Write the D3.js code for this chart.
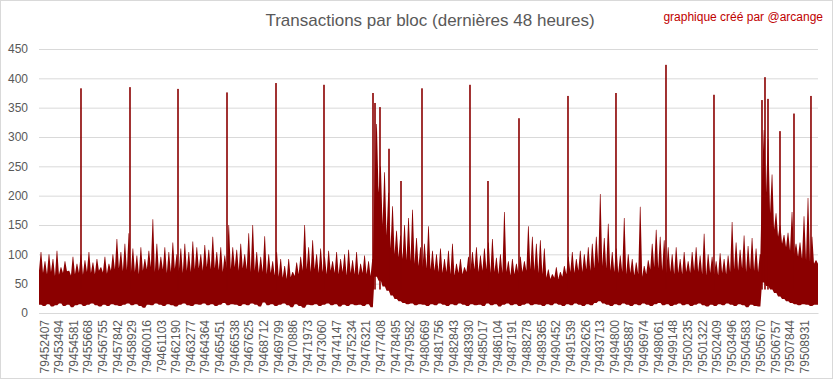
<!DOCTYPE html>
<html>
<head>
<meta charset="utf-8">
<script src="https://cdn.jsdelivr.net/npm/d3@7"></script>
<style>
  body { margin: 0; background: #fff; }
  svg { display: block; font-family: "Liberation Sans", Arial, sans-serif; }
</style>
</head>
<body>
<script>
var w = 833;
var h = 379;

// blocks are grouped in buckets of 297 blocks, starting at firstBlock
var firstBlock = 79452043;
var bucketSize = 297;

// max tx per bucket
var peakTx = [
  104, 88, 100, 92, 106, 78, 88, 72, 96, 84,
  100, 90, 104, 86, 92, 78, 96, 84, 100, 126,
  104, 118, 136, 110, 98, 112, 92, 106, 160, 118,
  96, 112, 104, 120, 100, 110, 118, 104, 122, 112,
  100, 116, 108, 130, 104, 112, 98, 150, 112, 108,
  118, 100, 136, 150, 104, 96, 131, 100, 88, 104,
  92, 80, 92, 70, 86, 96, 150, 112, 124, 100,
  110, 96, 106, 88, 104, 92, 100, 108, 90, 104,
  84, 98, 88, 92, 322, 250, 240, 205, 182, 140,
  132, 150, 162, 176, 128, 112, 118, 148, 106, 100,
  110, 92, 106, 118, 84, 92, 78, 96, 104, 112,
  98, 110, 120, 126, 94, 100, 172, 88, 92, 84,
  96, 88, 148, 130, 118, 124, 110, 74, 66, 78,
  70, 80, 96, 104, 92, 106, 100, 112, 118, 130,
  203, 128, 152, 104, 110, 98, 162, 100, 92, 86,
  181, 80, 90, 118, 142, 130, 124, 112, 100, 112,
  92, 104, 88, 104, 112, 98, 135, 100, 96, 88,
  102, 92, 98, 155, 120, 108, 132, 114, 128, 110,
  100, 312, 296, 236, 170, 150, 133, 137, 172, 118,
  120, 165, 196, 130, 90
];

// usual upper level of the bucket (dense part)
var coreTx = [
  72, 68, 66, 70, 63, 65, 68, 71, 64, 66,
  68, 65, 70, 68, 66, 72, 69, 67, 72, 74,
  76, 71, 73, 68, 70, 66, 72, 74, 78, 70,
  72, 74, 68, 70, 75, 71, 68, 72, 70, 74,
  76, 72, 78, 74, 76, 73, 70, 76, 74, 78,
  72, 76, 74, 70, 72, 68, 70, 66, 68, 64,
  62, 60, 58, 61, 63, 66, 72, 74, 70, 74,
  68, 70, 66, 72, 68, 66, 70, 64, 68, 66,
  64, 68, 66, 63, 222, 205, 150, 132, 110, 100,
  95, 92, 90, 88, 84, 80, 78, 76, 74, 72,
  70, 68, 70, 66, 64, 68, 66, 70, 72, 74,
  70, 72, 74, 68, 70, 66, 68, 70, 64, 66,
  68, 70, 72, 74, 72, 68, 66, 60, 58, 60,
  58, 62, 66, 70, 68, 72, 70, 74, 72, 76,
  84, 80, 76, 72, 70, 68, 70, 66, 68, 64,
  66, 62, 66, 74, 78, 76, 72, 68, 70, 66,
  68, 66, 70, 68, 72, 70, 66, 64, 68, 66,
  64, 68, 66, 70, 74, 72, 76, 70, 74, 72,
  70, 230, 205, 170, 142, 130, 118, 112, 106, 100,
  96, 92, 90, 86, 84
];

// min tx per bucket
var lowTx = [
  14, 12, 15, 11, 13, 16, 12, 14, 10, 13,
  15, 12, 14, 16, 13, 11, 14, 12, 15, 13,
  12, 14, 16, 13, 15, 12, 9, 14, 13, 16,
  14, 12, 15, 13, 11, 14, 16, 13, 12, 15,
  14, 16, 13, 15, 12, 14, 17, 13, 15, 14,
  12, 15, 13, 16, 14, 11, 18, 13, 15, 12,
  14, 16, 13, 10, 15, 12, 9, 14, 13, 15,
  12, 14, 16, 13, 15, 11, 14, 12, 15, 13,
  14, 12, 15, 10, 62, 55, 45, 38, 30, 24,
  20, 17, 15, 16, 13, 15, 14, 12, 15, 13,
  16, 14, 12, 15, 13, 16, 14, 12, 15, 13,
  14, 12, 16, 13, 15, 11, 14, 16, 13, 15,
  12, 14, 16, 13, 15, 14, 12, 15, 13, 16,
  14, 12, 15, 13, 16, 14, 12, 15, 13, 17,
  20, 16, 14, 12, 15, 13, 16, 14, 12, 15,
  13, 16, 14, 12, 15, 17, 13, 15, 12, 14,
  16, 13, 15, 12, 14, 16, 13, 11, 14, 12,
  15, 13, 16, 14, 12, 15, 13, 10, 14, 12,
  11, 52, 46, 40, 34, 28, 24, 20, 17, 15,
  13, 15, 14, 12, 14
];

// single blocks far above the rest
var spikeBlocks = [79455165, 79458808, 79462377, 79466020, 79469663, 79473231,
  79476874, 79477023, 79477394, 79478064, 79478956, 79480517, 79484085, 79485423,
  79487728, 79491371, 79494939, 79498657, 79502225, 79505794, 79506017, 79506240,
  79507132, 79508173, 79509436];
var spikeTx = [383, 385, 382, 376, 392, 389, 375, 358, 351, 280, 225, 383, 389, 225,
  332, 370, 375, 423, 372, 363, 402, 365, 310, 340, 370];

var tickBlocks = [79452407, 79453494, 79454581, 79455668, 79456755, 79457842, 79458929,
  79460016, 79461103, 79462190, 79463277, 79464364, 79465451, 79466538, 79467625,
  79468712, 79469799, 79470886, 79471973, 79473060, 79474147, 79475234, 79476321,
  79477408, 79478495, 79479582, 79480669, 79481756, 79482843, 79483930, 79485017,
  79486104, 79487191, 79488278, 79489365, 79490452, 79491539, 79492626, 79493713,
  79494800, 79495887, 79496974, 79498061, 79499148, 79500235, 79501322, 79502409,
  79503496, 79504583, 79505670, 79506757, 79507844, 79508931];
var yTicks = [0, 50, 100, 150, 200, 250, 300, 350, 400, 450];

var red = "#8b0000";

var svg = d3.select("body").append("svg")
  .attr("width", w)
  .attr("height", h);

svg.append("rect")
  .attr("x", 0.5).attr("y", 0.5)
  .attr("width", w - 1).attr("height", h - 1)
  .attr("fill", "#fff")
  .attr("stroke", "#d9d9d9");

var plotLeft = 39, plotRight = 818, plotTop = 49, plotBottom = 313;

var x = d3.scaleLinear()
  .domain([firstBlock, firstBlock + peakTx.length * bucketSize])
  .range([plotLeft, plotRight]);
var y = d3.scaleLinear()
  .domain([0, 450])
  .range([plotBottom, plotTop]);

// gridlines + y labels
var yAxis = svg.append("g")
  .attr("transform", "translate(" + plotLeft + ",0)")
  .call(d3.axisLeft(y).tickValues(yTicks).tickSize(-(plotRight - plotLeft)).tickPadding(11));
yAxis.select(".domain").remove();
yAxis.selectAll("line").attr("stroke", "#d9d9d9");
yAxis.selectAll("text")
  .attr("fill", "#595959")
  .attr("font-size", "12px")
  .attr("font-family", "Liberation Sans, Arial, sans-serif");

// body: saw-tooth going core -> peak -> core for every bucket
var pts = [];
peakTx.forEach(function(p, i) {
  var b = firstBlock + i * bucketSize;
  pts.push({b: b, v: coreTx[i], lo: lowTx[i]});
  pts.push({b: b + bucketSize * 0.42, v: p, lo: lowTx[i]});
  pts.push({b: b + bucketSize * 0.58, v: p, lo: lowTx[i]});
});
var last = peakTx.length - 1;
pts.push({b: firstBlock + peakTx.length * bucketSize, v: coreTx[last], lo: lowTx[last]});

var body = d3.area()
  .x(function(d){ return x(d.b); })
  .y0(function(d){ return y(d.lo); })
  .y1(function(d){ return y(d.v); });

svg.append("path")
  .datum(pts)
  .attr("d", body)
  .attr("fill", red);

svg.selectAll("rect.spike")
  .data(spikeTx)
  .enter()
  .append("rect")
  .attr("class", "spike")
  .attr("x", function(d, i){ return x(spikeBlocks[i]) - 0.8; })
  .attr("width", 1.6)
  .attr("y", function(d){ return y(d); })
  .attr("height", function(d){ return y(40) - y(d); })
  .attr("fill", red);

// x axis
var xAxis = svg.append("g")
  .attr("transform", "translate(0," + plotBottom + ")")
  .call(d3.axisBottom(x).tickValues(tickBlocks).tickSize(0).tickFormat(function(d){ return d; }));
xAxis.select(".domain").attr("stroke", "#d9d9d9");
xAxis.selectAll("text")
  .attr("fill", "#595959")
  .attr("font-size", "12px")
  .attr("font-family", "Liberation Sans, Arial, sans-serif")
  .attr("transform", "rotate(-90)")
  .attr("text-anchor", "end")
  .attr("x", -7)
  .attr("y", 0)
  .attr("dy", "0.35em");

// titles
svg.append("text")
  .text("Transactions par bloc (dernières 48 heures)")
  .attr("x", 430)
  .attr("y", 26)
  .attr("text-anchor", "middle")
  .attr("font-size", "17px")
  .attr("fill", "#595959");

svg.append("text")
  .text("graphique créé par @arcange")
  .attr("x", 823)
  .attr("y", 21)
  .attr("text-anchor", "end")
  .attr("font-size", "12px")
  .attr("fill", "#c00000");
</script>
</body>
</html>
